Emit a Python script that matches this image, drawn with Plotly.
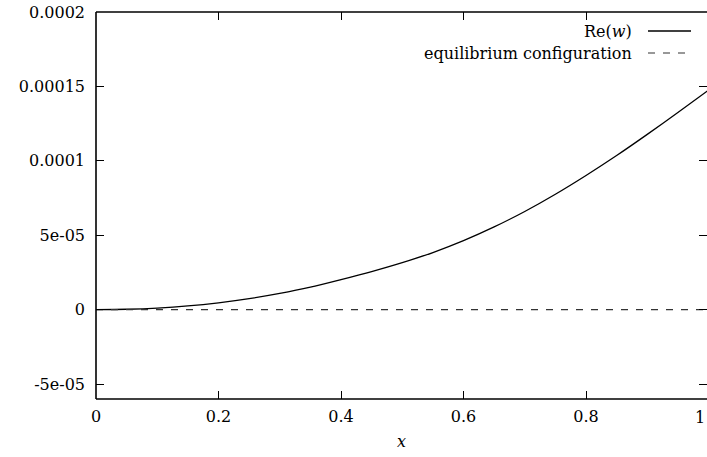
import plotly.graph_objects as go

# ---- data ----
x_vals = [0.0, 0.05, 0.1, 0.15, 0.2, 0.25, 0.3, 0.35, 0.4, 0.45, 0.5,
          0.55, 0.6, 0.65, 0.7, 0.75, 0.8, 0.85, 0.9, 0.95, 1.0]
re_w = [0.0, 0.03e-5, 0.11e-5, 0.25e-5, 0.46e-5, 0.74e-5, 1.09e-5, 1.51e-5,
        2.02e-5, 2.56e-5, 3.16e-5, 3.84e-5, 4.64e-5, 5.56e-5, 6.6e-5, 7.76e-5,
        9.02e-5, 10.36e-5, 11.78e-5, 13.25e-5, 14.75e-5]
eq_x = [0.0, 1.0]
eq_y = [0.0, 0.0]

x_ticks = [0, 0.2, 0.4, 0.6, 0.8, 1]
x_ticktext = ["0", "0.2", "0.4", "0.6", "0.8", "1"]
y_ticks = [-5e-05, 0, 5e-05, 0.0001, 0.00015, 0.0002]
y_ticktext = ["-5e-05", "0", "5e-05", "0.0001", "0.00015", "0.0002"]
legend_names = ["Re(<i>w</i>)", "equilibrium configuration"]

W, H = 707, 457
ML, MT, MB = 96, 12, 58
PX_PER_UNIT = 612.5
plot_w = W - ML
x_max = plot_w / PX_PER_UNIT

FONT = "DejaVu Serif"

fig = go.Figure()
fig.add_trace(go.Scatter(x=x_vals, y=re_w, mode="lines",
                         line=dict(color="black", width=1.3, shape="spline", smoothing=0.8),
                         showlegend=False))
fig.add_trace(go.Scatter(x=eq_x, y=eq_y, mode="lines",
                         line=dict(color="#333333", width=1.2, dash="7px,8px"),
                         showlegend=False))

def px2paper_x(px):
    return (px - ML) / plot_w

def px2paper_y(py):
    return 1 - (py - MT) / (H - MT - MB)

# border (left, top, bottom) - right edge lies outside the window
border = dict(color="black", width=1.6)
fig.add_shape(type="line", xref="paper", yref="paper", x0=0, x1=0, y0=0, y1=1, line=border)
fig.add_shape(type="line", xref="paper", yref="paper", x0=0, x1=1.01, y0=1, y1=1, line=border)
fig.add_shape(type="line", xref="paper", yref="paper", x0=0, x1=1.01, y0=0, y1=0, line=border)

# manual legend (text right-aligned, sample on the right)
rows_y = [31, 53]
dashes = [None, "7px,8px"]
for name, ry, d in zip(legend_names, rows_y, dashes):
    fig.add_annotation(xref="paper", yref="paper", x=px2paper_x(634), y=px2paper_y(ry),
                       text=name, showarrow=False, xanchor="right", yanchor="middle",
                       font=dict(family=FONT, size=16, color="black"))
    fig.add_shape(type="line", xref="paper", yref="paper",
                  x0=px2paper_x(648), x1=px2paper_x(691),
                  y0=px2paper_y(ry), y1=px2paper_y(ry),
                  line=dict(color="black" if d is None else "#333333",
                            width=1.3 if d is None else 1.2, dash=d))

# tick label "1" at the right edge (kept fully inside the window)
fig.add_annotation(xref="paper", yref="paper", x=1.0, y=0,
                   yanchor="top", xanchor="right", yshift=-7,
                   text=x_ticktext[-1], showarrow=False,
                   font=dict(family=FONT, size=16, color="black"))

fig.update_layout(
    width=W, height=H,
    margin=dict(l=ML, r=0, t=MT, b=MB, autoexpand=False),
    plot_bgcolor="white", paper_bgcolor="white",
    font=dict(family=FONT, size=16, color="black"),
    xaxis=dict(range=[0, x_max], tickvals=x_ticks[:-1], ticktext=x_ticktext[:-1],
               ticks="inside", ticklen=8, tickwidth=1, tickcolor="black",
               mirror="ticks", showline=False, showgrid=False, zeroline=False,
               ticklabelstandoff=6,
               title=dict(text="<i>x</i>", standoff=10,
                          font=dict(family=FONT, size=16))),
    yaxis=dict(range=[-6e-05, 0.0002], tickvals=y_ticks, ticktext=y_ticktext,
               ticks="inside", ticklen=8, tickwidth=1, tickcolor="black",
               mirror="ticks", showline=False, showgrid=False, zeroline=False,
               ticklabelstandoff=10),
)

fig.write_html("out.html")
